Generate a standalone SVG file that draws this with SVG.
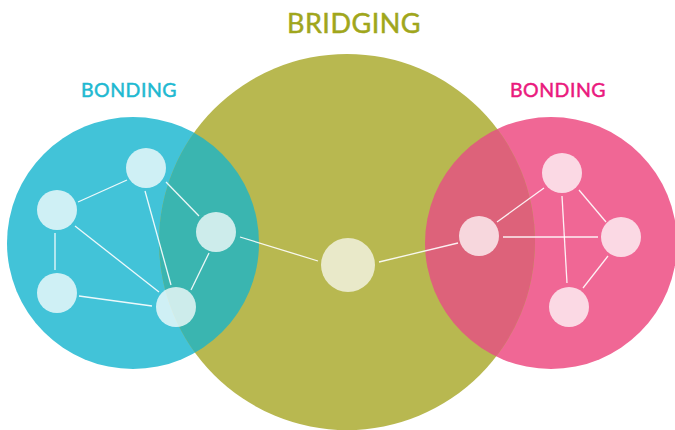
<svg xmlns="http://www.w3.org/2000/svg" width="675" height="430" viewBox="0 0 675 430">
<style>
.node{fill:#ffffff;fill-opacity:0.75}
.edge{stroke:#ffffff;stroke-width:1.3;stroke-opacity:0.9;fill:none}
.lbl{font-family:"Lato","Open Sans","Liberation Sans",sans-serif;text-anchor:middle;stroke-width:0.5}
</style>
<defs>
<clipPath id="clipOlive"><circle cx="347" cy="242" r="188"/></clipPath>
</defs>
<rect width="675" height="430" fill="#ffffff"/>
<g id="circles">
<circle id="bonding-left" cx="133" cy="243" r="126" fill="#42c3d8"/>
<circle id="bonding-right" cx="551" cy="243" r="126" fill="#f06795"/>
<circle id="bridging" cx="347" cy="242" r="188" fill="#b8b850"/>
<g clip-path="url(#clipOlive)">
<circle cx="133" cy="243" r="126" fill="#3ab5b0"/>
<circle cx="551" cy="243" r="126" fill="#dd627a"/>
</g>
</g>
<g id="labels">
<text class="lbl" x="354" y="33" font-size="27" fill="#a0a61c" stroke="#a0a61c" letter-spacing="0.5">BRIDGING</text>
<text class="lbl" x="129" y="97" font-size="19.5" fill="#1fb9d1" stroke="#1fb9d1" letter-spacing="0.5">BONDING</text>
<text class="lbl" x="558" y="97" font-size="19.5" fill="#ea1a7d" stroke="#ea1a7d" letter-spacing="0.5">BONDING</text>
</g>
<g id="connectors">
<line class="edge" x1="78" y1="202" x2="127" y2="180"/>
<line class="edge" x1="166" y1="182" x2="199" y2="216"/>
<line class="edge" x1="145" y1="191" x2="171" y2="285"/>
<line class="edge" x1="75" y1="226" x2="159" y2="292"/>
<line class="edge" x1="55" y1="233" x2="55" y2="270"/>
<line class="edge" x1="79" y1="296" x2="152" y2="306"/>
<line class="edge" x1="209" y1="253" x2="191" y2="290"/>
<line class="edge" x1="240" y1="237" x2="318" y2="261"/>
<line class="edge" x1="379" y1="262" x2="458" y2="243"/>
<line class="edge" x1="497" y1="222" x2="544" y2="188"/>
<line class="edge" x1="503" y1="237" x2="598" y2="237"/>
<line class="edge" x1="579" y1="190" x2="606" y2="222"/>
<line class="edge" x1="562" y1="196" x2="567" y2="283"/>
<line class="edge" x1="608" y1="256" x2="583" y2="288"/>
</g>
<g id="node-l1"><circle class="node" cx="146" cy="168" r="20"/></g>
<g id="node-l2"><circle class="node" cx="57" cy="210" r="20"/></g>
<g id="node-l3"><circle class="node" cx="57" cy="293" r="20"/></g>
<g id="node-l4"><circle class="node" cx="176" cy="307" r="20"/></g>
<g id="node-l5"><circle class="node" cx="216" cy="232" r="20"/></g>
<g id="node-center"><circle cx="348" cy="265" r="27" fill="#e9e9c9"/></g>
<g id="node-r1"><circle class="node" cx="479" cy="236" r="20"/></g>
<g id="node-r2"><circle class="node" cx="562" cy="173" r="20"/></g>
<g id="node-r3"><circle class="node" cx="621" cy="237" r="20"/></g>
<g id="node-r4"><circle class="node" cx="569" cy="307" r="20"/></g>
</svg>
